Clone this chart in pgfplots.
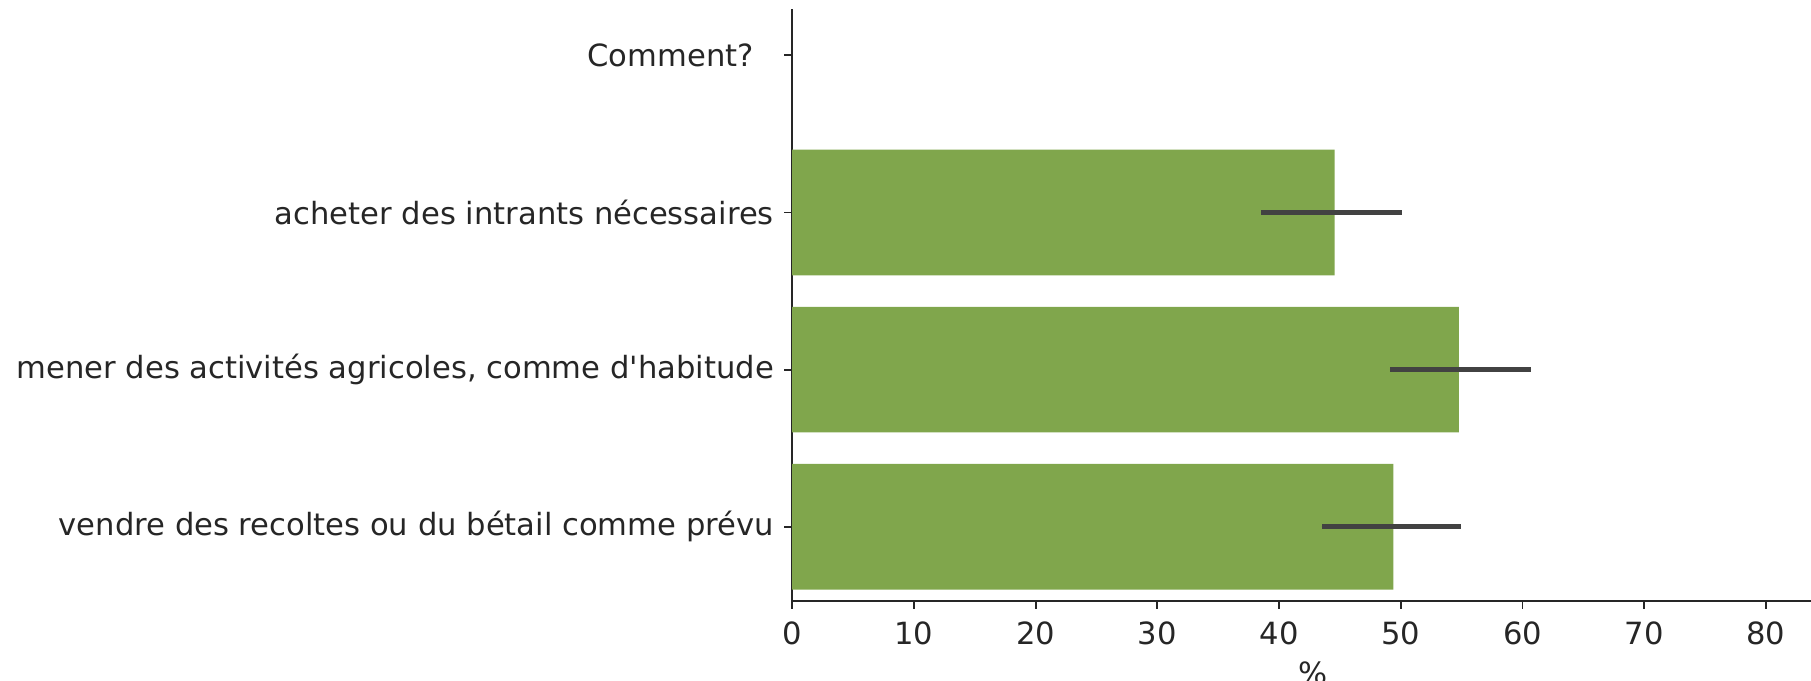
\documentclass[border=0pt]{standalone}
\usepackage{pgfplots}
\pgfplotsset{compat=1.18}
\usepackage{pgfplotstable}
\usepackage{fontspec}
\setmainfont{DejaVu Sans}[Ligatures=TeXOff]
\definecolor{bargreen}{RGB}{128,166,76}
\definecolor{errgray}{RGB}{66,66,66}
\definecolor{spine}{RGB}{38,38,38}
\pgfplotstableread{
y v em ep
0 49.38 5.88 5.57
1 54.78 5.68 5.92
2 44.57 6.07 5.50
}\datatable
\begin{document}
\begin{tikzpicture}
\begin{axis}[
  scale only axis,
  width=509.4pt, height=295.8pt,
  xmin=0, xmax=83.7,
  ymin=-0.47, ymax=3.295,
  axis x line*=bottom, axis y line*=left,
  axis line style={spine, line width=0.9pt},
  tick style={spine, line width=0.9pt},
  tick align=outside,
  major tick length=4pt,
  xtick={0,10,...,80},
  ytick={0,1,2,3},
  yticklabels={vendre des recoltes ou du bétail comme prévu,{mener des activités agricoles, comme d'habitude},acheter des intrants nécessaires,Comment?\kern10pt},
  /pgf/number format/assume math mode=true,
  font=\fontsize{15.3}{18}\selectfont,
  ticklabel style={font=\fontsize{15.3}{18}\selectfont, text=spine},
  yticklabel style={inner sep=0pt, xshift=-5pt},
  xticklabel style={inner sep=0pt, yshift=-6.5pt},
  xlabel={\%},
  xlabel style={at={(ticklabel cs:0.511)}, anchor=north, inner sep=0pt, yshift=-8pt, text=spine, font=\fontsize{15.3}{18}\selectfont},
  clip=false,
]
\addplot[xbar, bar width=0.8, fill=bargreen, draw=none,
  error bars/.cd, x dir=both, x explicit, error mark=none,
  error bar style={line width=2.7pt, color=errgray}]
  table[x=v, y=y, x error plus=ep, x error minus=em] {\datatable};
\end{axis}
\pgfresetboundingbox
\path[use as bounding box] ([xshift=-396.1pt, yshift=-39.7pt]current axis.south west) rectangle ([yshift=4.5pt]current axis.north east);
\end{tikzpicture}
\end{document}
